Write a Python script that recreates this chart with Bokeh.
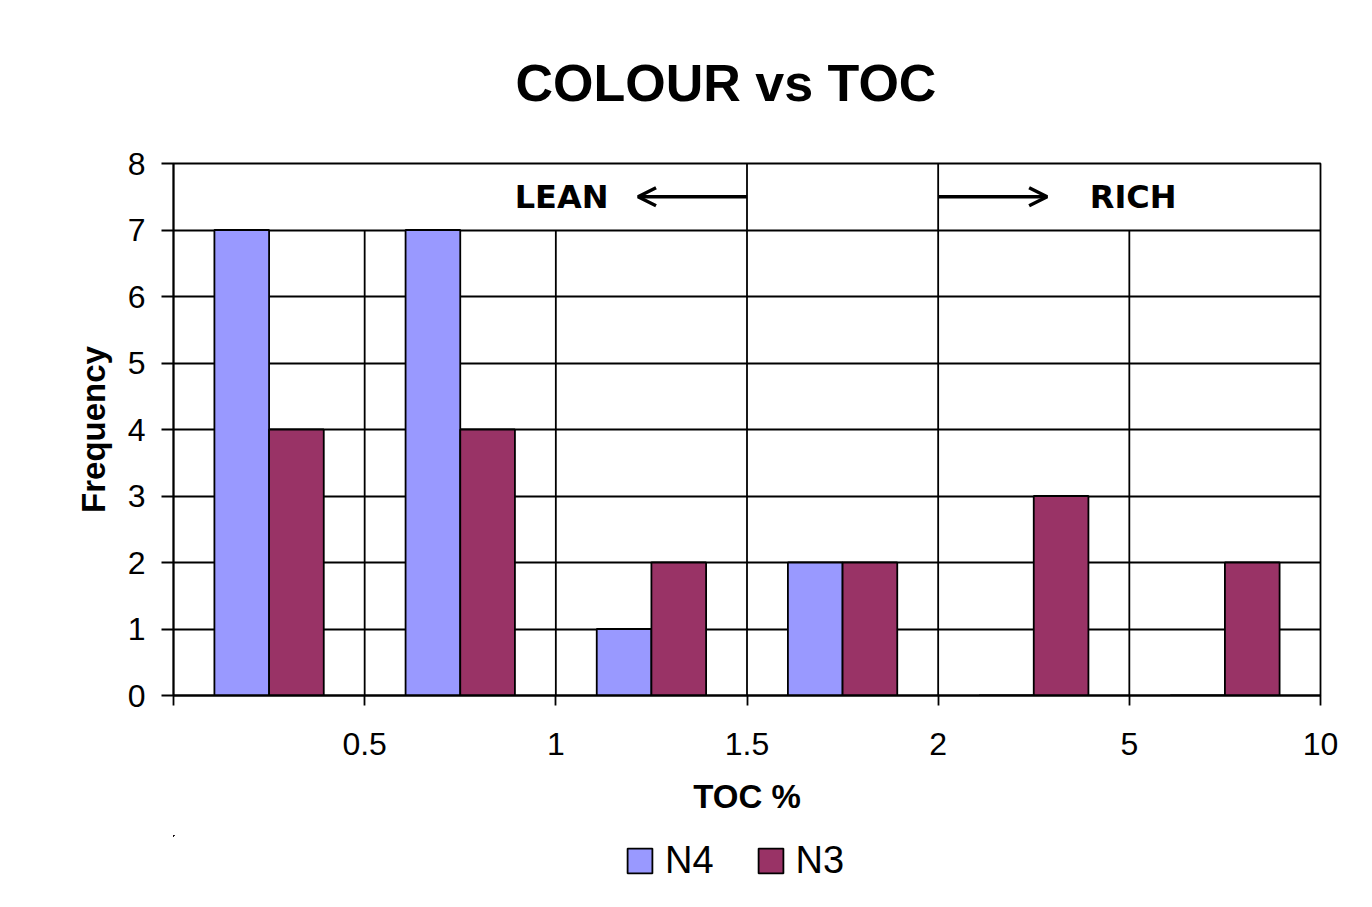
from bokeh.plotting import figure
from bokeh.layouts import column
from bokeh.models import (FixedTicker, Range1d, Legend, LegendItem, Arrow, OpenHead,
                          ColumnDataSource, Title)
from bokeh.core.properties import value
from bokeh.embed import file_html
from bokeh.resources import INLINE

# ---- data ----
toc_bins = ["0.5", "1", "1.5", "2", "5", "10"]   # upper bin edges (TOC %)
n4_freq = [7, 7, 1, 2, 0, 0]
n3_freq = [4, 4, 2, 2, 3, 2]
series_names = ["N4", "N3"]
series_colors = ["#9999FF", "#993366"]
zone_labels = ["LEAN", "RICH"]

# ---- style / layout constants ----
FONT = "Liberation Sans"
BAR_W = 0.286
n = len(toc_bins)
centers = [i + 0.5 for i in range(n)]

p = figure(frame_width=1147, frame_height=532, output_backend="svg", toolbar_location=None,
           x_range=Range1d(0, n), y_range=Range1d(0, 8),
           min_border_left=173, min_border_right=36, min_border_top=162,
           min_border_bottom=140, background_fill_color="white",
           border_fill_color="white")
p.title = None

title = Title(text="COLOUR vs TOC", align="left", text_font=FONT,
              text_font_size="52px", text_font_style="bold", text_color="black",
              offset=342, standoff=103)
p.add_layout(title, "above")

src = ColumnDataSource(dict(
    x4=[c - BAR_W / 2 for c in centers],
    x3=[c + BAR_W / 2 for c in centers],
    n4=n4_freq, n3=n3_freq))

bar_specs = [("x4", "n4"), ("x3", "n3")]
for (xcol, ycol), color in zip(bar_specs, series_colors):
    p.vbar(x=xcol, top=ycol, width=BAR_W, source=src, fill_color=color,
           line_color="black", line_width=1.8)

# vertical dividers between bins (the two around the lean/rich gap reach the top)
div_x = list(range(1, n))
div_top = [7, 7, 8, 8, 7]
p.segment(x0=div_x, x1=div_x, y0=[0] * len(div_x), y1=div_top,
          line_color="black", line_width=1.8, level="underlay")

# lean / rich markers
lean_edge, rich_edge = 3, 4
ARROW_LEN = 0.57
for start, end in ((lean_edge, lean_edge - ARROW_LEN), (rich_edge, rich_edge + ARROW_LEN)):
    p.add_layout(Arrow(x_start=start, y_start=7.5, x_end=end, y_end=7.5,
                       line_width=3.5, line_color="black",
                       end=OpenHead(size=18, line_width=3.5, line_color="black")))
p.text(x=[2.03, 5.02], y=[7.5, 7.5], text=zone_labels, text_font=value("DejaVu Sans"),
       text_font_size="32px", text_font_style="bold", text_align="center",
       text_baseline="middle", text_color="black")

# grid
p.xgrid.visible = False
p.ygrid.ticker = FixedTicker(ticks=list(range(1, 8)))
p.ygrid.grid_line_color = "black"
p.ygrid.grid_line_width = 1.8
p.ygrid.grid_line_alpha = 1
p.outline_line_color = "black"
p.outline_line_width = 1.8
p.outline_line_alpha = 1

# axes
p.xaxis.ticker = FixedTicker(ticks=list(range(0, n + 1)))
p.xaxis.major_label_overrides = {0: ""} | {i + 1: lab for i, lab in enumerate(toc_bins)}
p.yaxis.ticker = FixedTicker(ticks=list(range(0, 9)))
for ax in (p.xaxis[0], p.yaxis[0]):
    ax.axis_line_color = "black"
    ax.axis_line_width = 1.8
    ax.major_tick_line_color = "black"
    ax.major_tick_line_width = 1.8
    ax.major_tick_in = 0
    ax.minor_tick_line_color = None
    ax.major_label_text_font = FONT
    ax.major_label_text_font_size = "32px"
    ax.major_label_text_color = "black"
    ax.axis_label_text_font = FONT
    ax.axis_label_text_font_size = "33px"
    ax.axis_label_text_font_style = "bold"
    ax.axis_label_text_color = "black"
p.xaxis.major_tick_out = 10
p.yaxis.major_tick_out = 12
p.xaxis.major_label_standoff = 27
p.yaxis.major_label_standoff = 16
p.xaxis.axis_label = "TOC %"
p.yaxis.axis_label = "Frequency"
p.xaxis.axis_label_standoff = 20
p.yaxis.axis_label_standoff = 13

# ---- legend strip below the chart (same series, ranges set far out of view) ----
leg = figure(width=1356, height=57, output_backend="svg", toolbar_location=None,
             x_range=Range1d(1000, 1001), y_range=Range1d(-1000, -999), min_border=0,
             outline_line_color=None, background_fill_color="white",
             border_fill_color="white")
leg.axis.visible = False
leg.grid.visible = False
items = []
for name, (xcol, ycol), color in zip(series_names, bar_specs, series_colors):
    r = leg.vbar(x=xcol, top=ycol, width=BAR_W, source=src, fill_color=color,
                 line_color="black", line_width=1.8)
    items.append(LegendItem(label=name, renderers=[r], index=0))
legend = Legend(items=items, orientation="horizontal", location=(451, 10),
                label_text_font=FONT, label_text_font_size="38px",
                label_text_color="black", glyph_width=31, glyph_height=31,
                label_standoff=10, spacing=41, padding=4, margin=0,
                border_line_color=None, background_fill_alpha=0)
leg.add_layout(legend, "center")

layout = column(p, leg, spacing=0)
open("out.html", "w").write(file_html(layout, INLINE))
